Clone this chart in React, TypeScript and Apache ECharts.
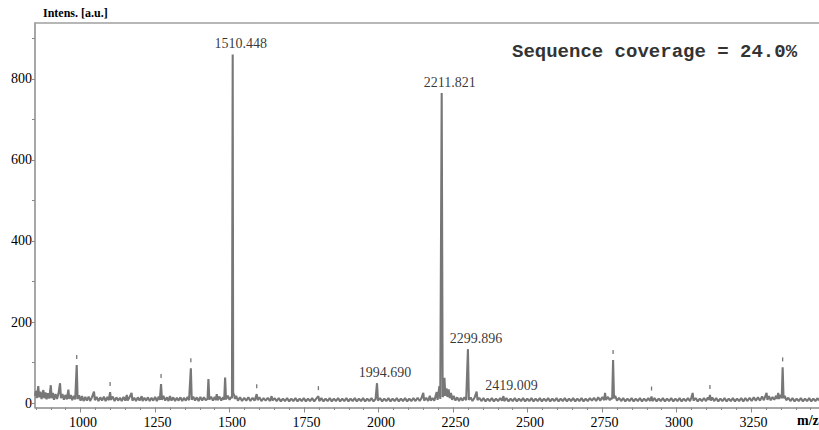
import React, { useEffect, useRef } from "react";
import * as echarts from "echarts";

// ---- Data ----
const spectrum: [number, number][] = [
  [847,18],[850,30],[853,12],[858,42],[861,14],[865,28],[869,10],[875,32],[878,12],[882,26],[886,9],[890,24],[895,11],[900,44],[903,12],[907,25],[911,8],[916,22],[921,10],[926,24],[931,49],[934,12],[939,22],[944,8],[949,20],[954,9],[959,33],[962,10],[967,20],[972,7],[977,18],[982,9],[987,94],[990,10],[995,19],[1000,6],
  [1005,17],[1010,5],[1016,15],[1021,6],[1027,16],[1032,5],[1038,14],[1045,28],[1048,7],[1054,15],[1060,5],[1066,14],[1072,6],[1078,16],[1084,5],[1090,15],[1095,7],[1099,27],[1102,8],[1108,16],[1114,5],[1120,14],[1126,6],[1132,13],[1138,5],[1144,15],[1150,6],[1155,20],[1158,6],[1164,14],[1171,25],[1174,6],[1180,13],[1186,5],[1192,14],[1198,6],[1205,17],[1208,5],[1214,13],[1220,6],[1226,14],[1232,5],[1238,13],[1244,6],[1250,15],[1256,5],[1262,16],[1266,8],[1270,47],[1273,8],[1278,18],[1284,6],[1290,14],[1295,5],[1300,17],[1305,6],[1311,14],[1317,5],[1323,13],[1329,6],[1335,14],[1341,5],[1347,13],[1353,6],[1359,15],[1364,7],[1370,86],[1373,8],[1378,16],[1384,6],[1390,14],[1396,5],[1402,15],[1408,6],[1414,14],[1420,7],[1426,10],[1429,59],[1432,8],[1438,16],[1444,6],[1450,15],[1454,7],[1457,22],[1460,7],[1466,16],[1472,6],[1478,14],[1482,8],[1485,63],[1488,9],[1494,18],[1500,8],[1505,15],[1508,12],[1510.448,860],[1512,25],[1515,20],[1518,10],[1522,18],
  [1528,6],[1535,14],[1542,5],[1549,13],[1556,6],[1563,14],[1570,5],[1577,13],[1584,6],[1591,22],[1594,7],[1600,14],[1607,5],[1614,12],[1621,6],[1628,13],[1635,5],[1641,17],[1644,6],[1651,12],[1658,5],[1665,12],[1672,4],[1679,11],[1686,5],[1693,12],[1700,4],[1707,11],[1714,5],[1721,12],[1728,4],[1735,11],[1742,5],[1749,12],[1756,4],[1763,11],[1770,5],[1777,12],[1784,4],[1791,11],[1798,17],[1801,5],[1808,12],[1815,4],[1822,11],[1829,5],[1836,12],[1843,4],[1850,11],[1857,5],[1864,12],[1871,4],[1878,11],[1885,5],[1892,12],[1899,4],[1906,11],[1913,5],[1920,12],[1927,4],[1934,11],[1941,5],[1948,12],[1955,4],[1962,11],[1969,5],[1976,12],[1983,4],[1990,10],[1994.69,49],[1998,6],[2005,12],[2012,4],[2019,11],[2026,5],[2033,12],[2040,4],[2047,11],[2054,5],[2061,12],[2068,4],[2075,11],[2082,5],[2089,12],[2096,4],[2103,11],[2110,5],[2117,12],[2124,5],[2131,13],[2138,5],[2144,12],
  [2150,25],[2153,6],[2160,13],[2166,5],[2172,18],[2175,6],[2181,12],[2187,6],[2195,27],[2198,8],[2204,42],[2207,10],[2211.821,765],[2215,15],[2218,20],[2221,62],[2224,18],[2228,36],[2231,15],[2235,34],[2239,12],[2243,25],[2247,8],[2252,18],[2258,6],[2264,14],[2270,5],[2276,13],[2282,6],[2288,14],[2294,7],[2299.896,133],[2303,8],[2309,14],[2315,5],[2322,13],[2329,28],[2332,7],[2338,13],[2345,5],
  [2352,12],[2359,4],[2366,11],[2373,5],[2380,12],[2387,4],[2394,11],[2401,5],[2408,12],[2414,6],[2419.009,17],[2422,5],[2429,12],[2436,4],[2443,11],[2450,5],[2457,12],[2464,4],[2471,11],[2478,5],[2485,12],[2492,4],[2499,11],[2506,5],[2513,12],[2520,4],[2527,11],[2534,5],[2541,12],[2548,4],[2555,11],[2562,5],[2569,12],[2576,4],[2583,11],[2590,5],[2597,12],[2604,4],[2611,11],[2618,5],[2625,12],[2632,4],[2639,11],[2646,5],[2653,12],[2660,4],[2667,11],[2674,5],[2681,12],[2688,4],[2695,11],[2702,5],[2709,12],[2716,6],[2723,13],[2730,5],[2737,14],[2744,6],[2751,15],[2757,7],[2760,25],[2763,8],[2770,15],[2776,7],[2780,12],[2784,10],[2787,106],[2790,12],[2794,18],[2800,6],
  [2807,13],[2814,5],[2821,12],[2828,4],[2835,11],[2842,5],[2849,12],[2856,4],[2863,11],[2870,5],[2877,12],[2884,4],[2891,11],[2898,5],[2905,12],[2911,5],[2916,16],[2919,5],[2926,12],[2933,4],[2940,11],[2947,5],[2954,12],[2961,4],[2968,11],[2975,5],[2982,12],[2989,4],[2996,11],[3003,5],[3010,12],[3017,4],[3024,11],[3031,5],[3038,12],[3045,5],[3050,14],[3054,25],[3057,6],[3064,12],[3071,4],[3078,11],[3085,5],[3092,12],[3099,5],[3105,14],[3109,8],[3112,20],[3115,6],[3120,14],[3126,5],[3133,12],[3140,4],[3147,11],[3154,5],[3161,12],[3168,4],[3175,11],[3182,5],[3189,12],[3196,4],[3203,11],[3210,5],[3217,12],[3224,4],[3231,12],[3238,5],[3245,13],[3252,5],[3259,14],[3266,6],[3273,14],[3280,6],[3287,16],[3293,7],[3302,25],[3305,8],[3310,17],[3316,7],[3322,15],[3328,8],[3334,18],[3338,10],[3341,25],[3344,10],[3349,20],[3353,12],[3356,88],[3359,12],[3363,18],[3368,7],[3375,13],[3382,5],[3389,12],[3396,4],[3403,11],[3410,5],[3417,12],[3424,4],[3431,11],[3438,5],[3445,12],[3452,4],[3459,11],[3466,5],[3473,12],[3478,6]
];

const labelledMz = [1510.448, 1994.69, 2211.821, 2299.896, 2419.009];
const labelledInt = [860, 49, 765, 133, 17];

const markerMz = [987, 1099, 1270, 1370, 1591, 1798, 2787, 2916, 3112, 3356];
const markerInt = [94, 27, 47, 86, 22, 17, 106, 16, 20, 88];

const xTickLabels = [1000, 1250, 1500, 1750, 2000, 2250, 2500, 2750, 3000, 3250];
const xMinorTicks = [
  850, 900, 950, 1000, 1050, 1100, 1150, 1200, 1250, 1300, 1350, 1400, 1450, 1500,
  1550, 1600, 1650, 1700, 1750, 1800, 1850, 1900, 1950, 2000, 2050, 2100, 2150, 2200,
  2250, 2300, 2350, 2400, 2450, 2500, 2550, 2600, 2650, 2700, 2750, 2800, 2850, 2900,
  2950, 3000, 3050, 3100, 3150, 3200, 3250, 3300, 3350, 3400, 3450,
];
const yTickLabels = [0, 200, 400, 600, 800];
const yTicks = [0, 100, 200, 300, 400, 500, 600, 700, 800, 900];

const coverageText = "Sequence coverage = 24.0%";
const yAxisTitle = "Intens. [a.u.]";
const xAxisTitle = "m/z";

const X_MIN = 847;
const X_MAX = 3478;
const Y_MIN = -11;
const Y_MAX = 938;

export default function App() {
  const ref = useRef<HTMLDivElement>(null);

  useEffect(() => {
    if (!ref.current) return;
    const chart = echarts.init(ref.current, undefined, { renderer: "svg" });
    const serif = "'Liberation Serif', 'DejaVu Serif', serif";
    const axisGray = "#8a8a8a";
    const textColor = "#000000";

    chart.setOption({
      animation: false,
      backgroundColor: "#ffffff",
      grid: { left: 35, right: 0, top: 23, bottom: 22.5, containLabel: false },
      xAxis: [
        {
          type: "value",
          min: X_MIN,
          max: X_MAX,
          position: "bottom",
          splitLine: { show: false },
          axisLine: { show: true, onZero: false, lineStyle: { color: axisGray, width: 1.5 } },
          axisTick: {
            show: true,
            customValues: xTickLabels,
            length: 5,
            lineStyle: { color: axisGray, width: 1 },
          },
          axisLabel: {
            show: true,
            customValues: xTickLabels,
            margin: 8,
            color: textColor,
            fontFamily: serif,
            fontSize: 14,
            padding: [0, 0, 0, 5],
            formatter: (v: number) => String(v),
          },
        },
        {
          type: "value",
          min: X_MIN,
          max: X_MAX,
          position: "bottom",
          splitLine: { show: false },
          axisLine: { show: false, onZero: false },
          axisTick: {
            show: true,
            customValues: xMinorTicks,
            length: 2.5,
            lineStyle: { color: axisGray, width: 1 },
          },
          axisLabel: { show: false },
        },
        {
          type: "value",
          min: X_MIN,
          max: X_MAX,
          position: "top",
          splitLine: { show: false },
          axisLine: { show: true, onZero: false, lineStyle: { color: "#a0a0a0", width: 1.5 } },
          axisTick: { show: false },
          axisLabel: { show: false },
        },
      ],
      yAxis: {
        type: "value",
        min: Y_MIN,
        max: Y_MAX,
        position: "left",
        splitLine: { show: false },
        axisLine: { show: true, onZero: false, lineStyle: { color: axisGray, width: 1.5 } },
        axisTick: {
          show: true,
          customValues: yTicks,
          length: 3,
          lineStyle: { color: axisGray, width: 1 },
        },
        axisLabel: {
          show: true,
          customValues: yTickLabels,
          margin: 3,
          color: textColor,
          fontFamily: serif,
          fontSize: 14,
          padding: [5, 0, 0, 0],
          formatter: (v: number) => String(v),
        },
      },
      series: [
        {
          type: "line",
          xAxisIndex: 0,
          data: spectrum,
          symbol: "none",
          lineStyle: { color: "#777777", width: 2.1 },
          silent: true,
          z: 2,
        },
        {
          type: "scatter",
          xAxisIndex: 0,
          data: markerMz.map((m, i) => [m, markerInt[i]]),
          symbol: "rect",
          symbolSize: [1.3, 4],
          symbolOffset: [0, -8],
          itemStyle: { color: "#555555" },
          silent: true,
          z: 3,
        },
        {
          type: "scatter",
          xAxisIndex: 0,
          data: labelledMz.map((m, i) => [m, labelledInt[i]]),
          symbolSize: 0,
          silent: true,
          z: 4,
          label: {
            show: true,
            position: "top",
            distance: 4,
            offset: [8, 0],
            color: textColor,
            fontFamily: serif,
            fontSize: 14,
            formatter: (p: any) => Number(p.value[0]).toFixed(3),
          },
        },
      ],
      graphic: [
        {
          type: "text",
          left: 43,
          top: 7,
          style: {
            text: yAxisTitle,
            fill: textColor,
            font: `bold 12px ${serif}`,
          },
        },
        {
          type: "text",
          left: 512,
          top: 42,
          style: {
            text: coverageText,
            fill: "#333333",
            font: `bold 19px 'Liberation Mono', 'DejaVu Sans Mono', monospace`,
          },
        },
        {
          type: "text",
          left: 797,
          top: 413,
          style: {
            text: xAxisTitle,
            fill: textColor,
            font: `bold 14px ${serif}`,
          },
        },
      ],
    });

    return () => {
      chart.dispose();
    };
  }, []);

  return (
    <div
      ref={ref}
      style={{ position: "fixed", left: 0, top: 0, width: 819, height: 430, background: "#fff" }}
    />
  );
}
